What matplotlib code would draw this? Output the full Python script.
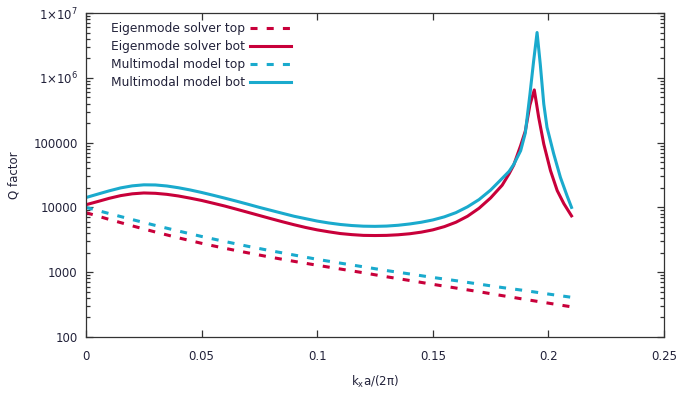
import matplotlib
matplotlib.use('Agg')
import matplotlib.pyplot as plt
import matplotlib as mpl
from matplotlib.ticker import LogLocator, FixedLocator, FixedFormatter, NullFormatter
import numpy as np

#-------------------------------------------------------------------------------
#Data
#-------------------------------------------------------------------------------

#solid curves: Q of the "bot" mode, shared kx grid up to the resonance
kx_bot = [0.0, 0.005, 0.01, 0.015, 0.02, 0.025, 0.03, 0.035, 0.04, 0.045,
          0.05, 0.055, 0.06, 0.065, 0.07, 0.075, 0.08, 0.085, 0.09, 0.095,
          0.1, 0.105, 0.11, 0.115, 0.12, 0.125, 0.13, 0.135, 0.14, 0.145,
          0.15, 0.155, 0.16, 0.165, 0.17, 0.175, 0.18, 0.183, 0.185, 0.188,
          0.19, 0.192]
eig_bot_rise = [11000, 12300, 13800, 15200, 16200, 16700, 16500, 15900, 15000, 13900,
                12800, 11600, 10500, 9400, 8400, 7500, 6700, 6000, 5400, 4900,
                4500, 4200, 3950, 3800, 3700, 3680, 3700, 3780, 3920, 4150,
                4500, 5050, 5900, 7300, 9700, 14000, 22000, 33000, 45000, 90000,
                150000, 380000]
mm_bot_rise = [14200, 16000, 18000, 20000, 21500, 22300, 22200, 21400, 20100, 18600,
               17000, 15400, 13900, 12500, 11200, 10000, 9000, 8100, 7300, 6700,
               6150, 5750, 5450, 5250, 5130, 5100, 5150, 5300, 5550, 5900,
               6400, 7150, 8300, 10200, 13200, 18500, 28000, 36000, 46000, 75000,
               140000, 550000]

#peak and falling side, own kx grids
eig_bot_kx_peak = [0.1939, 0.1958, 0.198, 0.2009, 0.2038, 0.2067, 0.21]
eig_bot_peak = [650000, 245000, 95000, 37000, 18200, 11400, 7400]
mm_bot_kx_peak = [0.1936, 0.1951, 0.1965, 0.198, 0.1994, 0.2023, 0.2052, 0.2081, 0.21]
mm_bot_peak = [1800000, 5000000, 1600000, 394000, 172000, 67000, 29000, 15000, 10000]

#dashed curves: Q of the "top" mode
kx_top = [0.0, 0.01, 0.02, 0.03, 0.04, 0.05, 0.06, 0.07, 0.08, 0.09, 0.1,
          0.11, 0.12, 0.13, 0.14, 0.15, 0.16, 0.17, 0.18, 0.19, 0.2, 0.21]
eig_top = [8300, 6530, 5190, 4170, 3390, 2790, 2340, 1990, 1700, 1470, 1280,
           1120, 980, 850, 745, 650, 570, 500, 435, 380, 333, 292]
mm_top = [10000, 8040, 6490, 5270, 4320, 3560, 2980, 2510, 2140, 1840, 1580,
          1380, 1210, 1060, 940, 830, 740, 655, 580, 520, 460, 410]

ytick_vals = [100, 1000, 10000, 100000, 1e6, 1e7]
ytick_labels = ['100', '1000', '10000', '100000', r'1$\times$10$^{6}$', r'1$\times$10$^{7}$']
xtick_vals = [0, 0.05, 0.1, 0.15, 0.2, 0.25]
xtick_labels = ['0', '0.05', '0.1', '0.15', '0.2', '0.25']

#-------------------------------------------------------------------------------
#Graph output
#-------------------------------------------------------------------------------

mpl.rcParams['font.family'] = ['DejaVu Sans']
mpl.rcParams['font.size'] = 8.5
mpl.rcParams['mathtext.default'] = 'regular'

red = '#c8003a'
cyan = '#1aaacd'
txt = '#22223a'
dash = (0, (2.3, 3.0))
lw = 2.2

fig = plt.figure(figsize=(6.81, 3.94), dpi=100)
ax = fig.add_axes([86/681, 57/394, 578/681, 324/394])

ax.plot(kx_top, eig_top, color=red, lw=lw, ls=dash, label='Eigenmode solver top')
ax.plot(kx_bot + eig_bot_kx_peak, eig_bot_rise + eig_bot_peak, color=red, lw=lw,
        label='Eigenmode solver bot')
ax.plot(kx_top, mm_top, color=cyan, lw=lw, ls=dash, label='Multimodal model top')
ax.plot(kx_bot + mm_bot_kx_peak, mm_bot_rise + mm_bot_peak, color=cyan, lw=lw,
        label='Multimodal model bot')

#Axes
ax.set_yscale('log')
ax.set_xlim(0, 0.25)
ax.set_ylim(100, 1e7)
ax.xaxis.set_major_locator(FixedLocator(xtick_vals))
ax.xaxis.set_major_formatter(FixedFormatter(xtick_labels))
ax.yaxis.set_major_locator(FixedLocator(ytick_vals))
ax.yaxis.set_major_formatter(FixedFormatter(ytick_labels))
ax.yaxis.set_minor_locator(LogLocator(base=10, subs=np.arange(2, 10)))
ax.yaxis.set_minor_formatter(NullFormatter())

ax.tick_params(which='both', direction='in', top=True, right=True,
               color='#333333', labelcolor=txt)
ax.tick_params(which='major', length=5, width=0.9)
ax.tick_params(which='minor', length=3.2, width=0.9)
ax.tick_params(axis='x', pad=9)
ax.tick_params(axis='y', pad=6)
for s in ax.spines.values():
    s.set_linewidth(0.9)
    s.set_color('#333333')

ax.set_xlabel('k$_x$a/(2π)', color=txt)
ax.set_ylabel('Q factor', color=txt)
ax.xaxis.set_label_coords(0.5, -0.115)
ax.yaxis.set_label_coords(-0.114, 0.5)

ax.legend(loc='upper left', bbox_to_anchor=(0.043, 0.972), frameon=False,
          markerfirst=False, borderpad=0, borderaxespad=0, handlelength=3.4,
          handletextpad=0.4, labelspacing=0.42, labelcolor=txt, fontsize=8.8)

fig.savefig('out.png', dpi=100)
